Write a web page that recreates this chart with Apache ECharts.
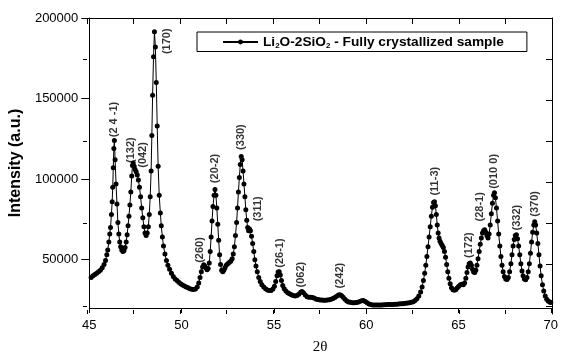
<!DOCTYPE html>
<html>
<head>
<meta charset="utf-8">
<script src="https://cdn.jsdelivr.net/npm/echarts@6/dist/echarts.min.js"></script>
<style>
  html, body { margin: 0; padding: 0; background: #fff; }
  #chart { width: 561px; height: 360px; }
</style>
</head>
<body>
<div id="chart"></div>
<script>
// XRD pattern
const twoTheta = [
  45.10, 45.20, 45.30, 45.40, 45.50, 45.60, 45.70, 45.80, 45.88, 45.95,
  46.00, 46.06, 46.11, 46.15, 46.20, 46.24, 46.27, 46.30, 46.33, 46.36,
  46.40, 46.45, 46.50, 46.55, 46.60, 46.65, 46.70, 46.76, 46.82, 46.88,
  46.94, 47.00, 47.05, 47.10, 47.15, 47.20, 47.25, 47.30, 47.34, 47.38,
  47.43, 47.48, 47.54, 47.60, 47.66, 47.72, 47.78, 47.84, 47.90, 47.96,
  48.02, 48.08, 48.14, 48.20, 48.25, 48.30, 48.35, 48.39, 48.43, 48.48,
  48.53, 48.58, 48.63, 48.68, 48.73, 48.79, 48.85, 48.90, 48.96, 49.02,
  49.10, 49.18, 49.26, 49.35, 49.45, 49.55, 49.65, 49.75, 49.85, 49.95,
  50.05, 50.15, 50.25, 50.35, 50.45, 50.55, 50.65, 50.75, 50.85, 50.93,
  51.00, 51.07, 51.14, 51.20, 51.26, 51.32, 51.38, 51.44, 51.50, 51.55,
  51.60, 51.65, 51.70, 51.76, 51.81, 51.86, 51.91, 51.96, 52.01, 52.06,
  52.11, 52.17, 52.23, 52.29, 52.35, 52.42, 52.50, 52.58, 52.66, 52.74,
  52.80, 52.86, 52.92, 52.98, 53.03, 53.08, 53.13, 53.18, 53.23, 53.28,
  53.33, 53.38, 53.43, 53.48, 53.53, 53.58, 53.63, 53.68, 53.73, 53.79,
  53.85, 53.91, 53.97, 54.03, 54.10, 54.18, 54.26, 54.35, 54.45, 54.55,
  54.65, 54.75, 54.85, 54.95, 55.03, 55.10, 55.17, 55.23, 55.29, 55.35,
  55.41, 55.48, 55.56, 55.65, 55.75, 55.85, 55.95, 56.05, 56.15, 56.25,
  56.35, 56.45, 56.52, 56.60, 56.70, 56.80, 56.90, 57.00, 57.10, 57.20,
  57.30, 57.40, 57.50, 57.60, 57.70, 57.80, 57.90, 58.00, 58.10, 58.20,
  58.30, 58.40, 58.50, 58.58, 58.66, 58.75, 58.85, 58.95, 59.05, 59.15,
  59.25, 59.35, 59.45, 59.55, 59.65, 59.75, 59.85, 59.95, 60.05, 60.15,
  60.25, 60.35, 60.45, 60.55, 60.65, 60.75, 60.85, 60.95, 61.05, 61.15,
  61.25, 61.35, 61.45, 61.55, 61.65, 61.75, 61.85, 61.95, 62.05, 62.15,
  62.25, 62.35, 62.45, 62.55, 62.65, 62.75, 62.85, 62.95, 63.03, 63.10,
  63.17, 63.23, 63.29, 63.35, 63.41, 63.47, 63.53, 63.59, 63.65, 63.70,
  63.75, 63.80, 63.85, 63.90, 63.95, 64.00, 64.06, 64.12, 64.18, 64.24,
  64.30, 64.36, 64.42, 64.48, 64.55, 64.62, 64.70, 64.78, 64.86, 64.94,
  65.02, 65.10, 65.18, 65.26, 65.33, 65.40, 65.46, 65.52, 65.58, 65.64,
  65.70, 65.76, 65.82, 65.88, 65.94, 66.00, 66.06, 66.12, 66.18, 66.24,
  66.30, 66.36, 66.42, 66.48, 66.54, 66.60, 66.66, 66.72, 66.78, 66.84,
  66.90, 66.95, 67.00, 67.06, 67.12, 67.18, 67.24, 67.30, 67.36, 67.42,
  67.49, 67.56, 67.63, 67.70, 67.77, 67.84, 67.90, 67.96, 68.02, 68.08,
  68.14, 68.20, 68.26, 68.32, 68.38, 68.44, 68.50, 68.57, 68.64, 68.71,
  68.78, 68.84, 68.90, 68.96, 69.02, 69.08, 69.13, 69.18, 69.24, 69.30,
  69.36, 69.42, 69.48, 69.55, 69.62, 69.70, 69.78, 69.86, 69.94, 70.00
]
const intensity = [
  39000, 40000, 40800, 41600, 42500, 43500, 45000, 47000, 49500, 53000,
  56000, 61000, 66000, 70000, 78000, 86000, 95000, 107000, 119000, 124000,
  112000, 97000, 84500, 73000, 66000, 61000, 58000, 56000, 55000, 55500,
  57500, 61000, 65500, 71000, 77000, 84000, 92000, 102000, 108500, 110000,
  108000, 106000, 104500, 102500, 99500, 95000, 89000, 82000, 76000, 70500,
  66500, 65000, 66500, 70500, 78000, 89000, 105000, 127000, 152000, 176000,
  191500, 182000, 160000, 133000, 108000, 90000, 79000, 71000, 64000, 58500,
  53500, 49500, 46500, 44000, 41500, 39500, 38000, 37000, 36000, 35000,
  34200, 33600, 33000, 32500, 32000, 31700, 31500, 31800, 33000, 35500,
  39000, 42500, 45500, 46800, 46000, 45000, 43800, 44500, 48000, 55000,
  64000, 74000, 83000, 90000, 93500, 90000, 82000, 72000, 62000, 53000,
  47000, 43500, 42500, 43500, 45000, 46500, 47500, 48200, 49000, 50500,
  53500, 58000, 65000, 73000, 82000, 92000, 101000, 109000, 114000, 112000,
  105000, 97000, 89000, 81000, 74500, 70000, 68000, 69000, 68000, 64500,
  60000, 55000, 50000, 46000, 42500, 39000, 36500, 34500, 33000, 32000,
  31200, 30800, 30800, 31800, 33500, 36500, 40000, 42300, 42500, 40500,
  37000, 34000, 32000, 30500, 29500, 28800, 28200, 27800, 27500, 27700,
  28500, 29800, 30300, 29500, 28000, 27000, 26700, 26600, 26500, 26000,
  25500, 25200, 25000, 24900, 24800, 24800, 24900, 25100, 25400, 25900,
  26500, 27300, 28000, 28300, 27800, 26700, 25400, 24400, 23800, 23500,
  23300, 23300, 23400, 23600, 24000, 24500, 24600, 24000, 23200, 22500,
  22100, 21900, 21800, 21800, 21800, 21900, 21900, 22000, 22000, 22100,
  22100, 22200, 22200, 22300, 22400, 22500, 22600, 22700, 22800, 22900,
  23100, 23300, 23500, 23900, 24600, 25800, 27500, 30000, 33000, 37000,
  41500, 46500, 52000, 58000, 64000, 70500, 77000, 82500, 85500, 86000,
  83500, 78000, 71500, 66500, 63500, 61500, 60000, 58800, 57500, 55000,
  51500, 47000, 42500, 38500, 35000, 32500, 31300, 31000, 31500, 32500,
  33500, 34500, 34800, 34500, 35500, 38500, 42000, 45500, 47500, 48000,
  46500, 44000, 42300, 42000, 43500, 46500, 50500, 55000, 59500, 63500,
  66500, 68000, 68500, 67000, 65000, 63500, 66000, 71500, 78500, 85000,
  90000, 91500, 88500, 82000, 74000, 66000, 58500, 52000, 46500, 42500,
  39500, 38000, 37700, 39000, 42500, 47500, 53000, 58500, 62500, 65000,
  65500, 63000, 58500, 53000, 47500, 43000, 40000, 38000, 37500, 39000,
  42500, 47500, 54000, 61000, 67000, 71500, 73500, 71500, 66500, 60000,
  53000, 46000, 40000, 34500, 30500, 27500, 25500, 24300, 23700, 23400
]

// reflection labels (centre of each rotated label, in data units)
const peakNames = ['(2 4 -1)', '(132)', '(042)', '(170)', '(260)', '(20-2)', '(330)', '(311)',
  '(26-1)', '(062)', '(242)', '(11-3)', '(172)', '(28-1)', '(010 0)', '(332)', '(370)']
const peakX = [46.34, 47.28, 47.90, 49.22, 51.02, 51.83, 53.23, 54.12,
  55.32, 56.45, 58.60, 63.71, 65.59, 66.18, 66.94, 68.16, 69.14]
const peakY = [137000, 118000, 115000, 185600, 56000, 106600, 126100, 81600,
  54100, 40700, 40100, 98700, 59000, 82800, 104800, 76100, 84600]

const xTickLabels = [45, 50, 55, 60, 65, 70]
const yTickLabels = [50000, 100000, 150000, 200000]
const yMinorTicks = [25000, 75000, 125000, 175000]
const yRightTicks = [25000, 50000, 75000, 100000, 125000, 150000, 175000, 200000]

const seriesName = 'Li2O-2SiO2 - Fully crystallized sample'
const font = 'Liberation Sans, Arial, sans-serif'

let pattern = twoTheta.map((x, i) => [x, intensity[i]])
let peaks = peakNames.map((n, i) => ({ name: n, value: [peakX[i], peakY[i]] }))

let chart = echarts.init(document.getElementById('chart'))

// three grids on the same rect: main axes, frame (top/right), minor ticks
let rect = { left: 87, right: 9, top: 18, bottom: 46 }
let xBase = { type: 'value', min: 45, max: 70, splitLine: { show: false } }
let yBase = { type: 'value', min: 20000, max: 200000, splitLine: { show: false } }
let line = { show: true, lineStyle: { color: '#000', width: 1 } }

let option = {
  animation: false,
  backgroundColor: '#fff',
  grid: [Object.assign({}, rect), Object.assign({}, rect), Object.assign({}, rect)],
  legend: {
    data: [seriesName],
    left: 197,
    top: 32,
    padding: [3, 23, 2, 25],
    borderColor: '#000',
    borderWidth: 1,
    itemWidth: 35,
    itemHeight: 6,
    formatter: () => 'Li{sub|2}O-2SiO{sub|2} - Fully crystallized sample',
    textStyle: {
      fontFamily: font,
      fontWeight: 'bold',
      fontSize: 13.7,
      color: '#000',
      rich: {
        sub: { fontFamily: font, fontWeight: 'bold', fontSize: 8, color: '#000', padding: [7, 0, 0, 0] },
      },
    },
  },
  xAxis: [
    Object.assign({}, xBase, {
      gridIndex: 0,
      position: 'bottom',
      interval: 5,
      axisLine: line,
      axisTick: { show: true, length: 5, lineStyle: { color: '#000' } },
      axisLabel: {
        color: '#000',
        fontFamily: font,
        fontSize: 13,
        margin: 11,
        customValues: xTickLabels,
        formatter: (v) => String(v),
      },
      name: '2θ',
      nameLocation: 'middle',
      nameGap: 32,
      nameTextStyle: { fontFamily: 'Liberation Serif, serif', fontSize: 15, color: '#000' },
    }),
    Object.assign({}, xBase, {
      gridIndex: 1,
      position: 'top',
      interval: 2.5,
      axisLine: line,
      axisTick: { show: true, inside: true, length: 6, lineStyle: { color: '#000' } },
      axisLabel: { show: false },
    }),
    Object.assign({}, xBase, {
      gridIndex: 2,
      position: 'bottom',
      interval: 2.5,
      axisLine: { show: false },
      axisTick: { show: true, inside: true, length: 4, lineStyle: { color: '#000' } },
      axisLabel: { show: false },
    }),
  ],
  yAxis: [
    Object.assign({}, yBase, {
      gridIndex: 0,
      position: 'left',
      axisLine: line,
      axisTick: { show: true, length: 8, customValues: yTickLabels, lineStyle: { color: '#000' } },
      axisLabel: {
        color: '#000',
        fontFamily: font,
        fontSize: 13,
        margin: 11,
        customValues: yTickLabels,
        formatter: (v) => String(v),
      },
      name: 'Intensity (a.u.)',
      nameLocation: 'middle',
      nameGap: 54,
      nameTextStyle: { fontFamily: font, fontWeight: 'bold', fontSize: 16, color: '#000' },
    }),
    Object.assign({}, yBase, {
      gridIndex: 1,
      position: 'right',
      axisLine: line,
      axisTick: { show: true, inside: true, length: 6, customValues: yRightTicks, lineStyle: { color: '#000' } },
      axisLabel: { show: false },
    }),
    Object.assign({}, yBase, {
      gridIndex: 2,
      position: 'left',
      axisLine: { show: false },
      axisTick: { show: true, length: 4, customValues: yMinorTicks, lineStyle: { color: '#000' } },
      axisLabel: { show: false },
    }),
  ],
  series: [
    {
      name: seriesName,
      type: 'line',
      xAxisIndex: 0,
      yAxisIndex: 0,
      data: pattern,
      symbol: 'circle',
      symbolSize: 5,
      showAllSymbol: true,
      itemStyle: { color: '#000' },
      lineStyle: { color: '#000', width: 1 },
      silent: true,
    },
    {
      name: 'peaks',
      type: 'scatter',
      xAxisIndex: 0,
      yAxisIndex: 0,
      data: peaks,
      symbolSize: 1,
      itemStyle: { color: 'rgba(0,0,0,0)' },
      silent: true,
      z: 5,
      label: {
        show: true,
        position: 'inside',
        rotate: 90,
        formatter: (p) => p.name,
        fontFamily: font,
        fontWeight: 'bold',
        fontSize: 11,
        color: '#000',
      },
    },
  ],
}
chart.setOption(option)
</script>
</body>
</html>
